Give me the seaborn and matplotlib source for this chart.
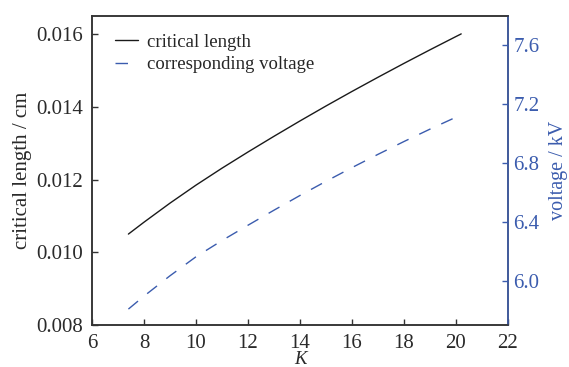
import matplotlib
matplotlib.use("Agg")
import matplotlib.pyplot as plt
import seaborn as sns
import pandas as pd

K = [7.4, 8, 9, 10, 11, 12, 13, 14, 15, 16, 17, 18, 19, 20, 20.2]
critical_length = [0.01050, 0.010827, 0.011351, 0.011846, 0.012312, 0.012757, 0.013189,
                   0.013611, 0.014022, 0.014422, 0.014812, 0.015194, 0.015567, 0.015932, 0.016004]
voltage = [5.808, 5.896, 6.034, 6.163, 6.273, 6.377, 6.479, 6.579, 6.675, 6.768,
           6.858, 6.945, 7.029, 7.110, 7.126]

sns.set_style("ticks")
plt.rcParams['font.family'] = ['Liberation Serif', 'DejaVu Serif']
plt.rcParams['font.size'] = 12

blue = "#3b5cae"
dark = "#333333"
df = pd.DataFrame({"K": K, "L": critical_length, "V": voltage})

fig = plt.figure(figsize=(5.69, 3.67), dpi=100)
ax = fig.add_axes([92/569, 1-325/367, (508-92)/569, (325-15.5)/367])
ax2 = ax.twinx()

sns.lineplot(data=df, x="K", y="L", ax=ax, color="#1a1a1a", lw=1.0, label="critical length", legend=False)
sns.lineplot(data=df, x="K", y="V", ax=ax2, color=blue, lw=1.0, label="corresponding voltage", legend=False)
ax2.lines[0].set_dashes([9, 8.5])

ax.set_xlim(6, 22)
ax.set_ylim(0.008, 0.01651)
ax2.set_ylim(5.7, 7.8)
ax.set_xticks([6, 8, 10, 12, 14, 16, 18, 20, 22])
ax.set_yticks([0.008, 0.010, 0.012, 0.014, 0.016])
ax.set_yticklabels(["0.008", "0.010", "0.012", "0.014", "0.016"])
ax2.set_yticks([6.0, 6.4, 6.8, 7.2, 7.6])
ax2.set_yticklabels(["6.0", "6.4", "6.8", "7.2", "7.6"])

for a in (ax, ax2):
    for s in a.spines.values():
        s.set_linewidth(1.1)
        s.set_color(dark)
ax2.spines["right"].set_color(blue)
ax.tick_params(axis="y", direction="in", length=4, width=1, labelsize=15, colors=dark, labelcolor="#2a2a2a", pad=6.5)
ax.tick_params(axis="x", direction="in", length=4, width=1, labelsize=15, colors=dark, labelcolor="#2a2a2a", pad=6.5)
ax2.tick_params(direction="in", length=4, width=1, labelsize=15, colors=blue, labelcolor=blue, pad=4)

ax.set_xlabel("K", fontstyle="italic", fontsize=13.5, color="#2a2a2a", va="baseline")
ax.set_ylabel("critical length / cm", fontsize=15, color="#2a2a2a")
ax2.set_ylabel("voltage / kV", fontsize=14.5, color=blue)
ax.xaxis.set_label_coords(0.5, (325 - 364.5) / 309.5)
ax.yaxis.set_label_coords(-0.144, 0.5)
ax2.yaxis.set_label_coords(1.098, 0.5)

h1, l1 = ax.get_legend_handles_labels()
h2, l2 = ax2.get_legend_handles_labels()
ax.legend(h1 + h2, l1 + l2, loc="upper left", frameon=False, fontsize=13.5,
          handlelength=1.23, handletextpad=0.46, bbox_to_anchor=(0.055, 0.942),
          borderaxespad=0, borderpad=0, labelspacing=0.29)

fig.savefig("out.png", dpi=100)
